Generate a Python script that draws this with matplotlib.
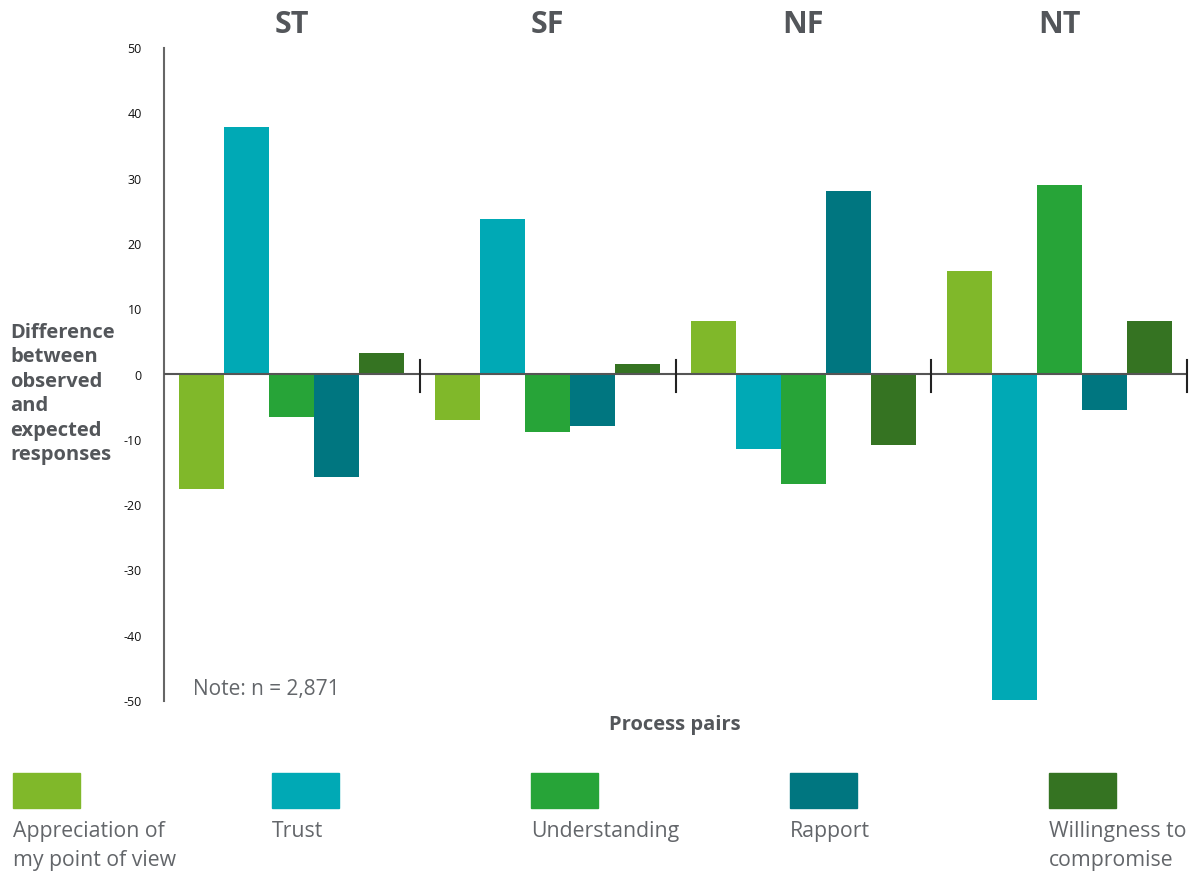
import matplotlib
matplotlib.use("Agg")
import matplotlib.pyplot as plt
from matplotlib.patches import Rectangle
import numpy as np

plt.rcParams['font.family'] = ['Open Sans', 'DejaVu Sans']

groups = ["ST", "SF", "NF", "NT"]
series = ["Appreciation of\nmy point of view", "Trust", "Understanding", "Rapport",
          "Willingness to\ncompromise"]
appreciation = [-17.5, -7.0, 8.2, 15.8]
trust = [37.9, 23.8, -11.4, -49.8]
understanding = [-6.5, -8.8, -16.8, 29.0]
rapport = [-15.7, -7.9, 28.1, -5.4]
willingness = [3.3, 1.6, -10.8, 8.2]
yticks = [50, 40, 30, 20, 10, 0, -10, -20, -30, -40, -50]
colors = ["#80B82A", "#00A9B5", "#27A438", "#007680", "#357322"]

values = [appreciation, trust, understanding, rapport, willingness]

W, H = 1190, 871
fig = plt.figure(figsize=(W / 100, H / 100), dpi=100)
ax = fig.add_axes([164 / W, 1 - 701 / H, (1187 - 164) / W, (701 - 48) / H])

x = np.arange(len(groups))
bw = 45 / 255.75
for i, (vals, c) in enumerate(zip(values, colors)):
    ax.bar(x + (i - 2) * bw, vals, width=bw, color=c, zorder=2)

ax.set_xlim(-0.5, len(groups) - 0.5)
ax.set_ylim(-50, 50)
ax.axhline(0, color="#555555", lw=1.5, zorder=3)
for xs in np.arange(0.5, len(groups), 1.0):
    ax.plot([xs, xs], [-2.7, 2.2], color="#222222", lw=1.5, zorder=4, clip_on=False)

for s in ["top", "right", "bottom"]:
    ax.spines[s].set_visible(False)
ax.spines["left"].set_color("#666666")
ax.spines["left"].set_linewidth(1.5)
ax.set_yticks(yticks)
ax.set_yticklabels([str(v) for v in yticks], fontsize=9, color="#111111")
ax.tick_params(axis="y", length=0, pad=16)
ax.set_xticks([])

for gi, g in enumerate(groups):
    ax.text(gi, 1.035, g, transform=ax.get_xaxis_transform(), ha="center", va="center",
            fontsize=22, fontweight="bold", color="#53565A")

fig.text(10 / W, 1 - 394 / H, "Difference\nbetween\nobserved\nand\nexpected\nresponses",
         ha="left", va="center", fontsize=14.5, fontweight="bold", color="#53565A",
         linespacing=1.3)
fig.text(675 / W, 1 - 725 / H, "Process pairs", ha="center", va="center",
         fontsize=14.5, fontweight="bold", color="#53565A")
fig.text(193 / W, 1 - 689 / H, "Note: n = 2,871", ha="left", va="center",
         fontsize=15, color="#63666A")

for i, (lab, c) in enumerate(zip(series, colors)):
    x0 = 13 + i * 259
    fig.patches.append(Rectangle((x0 / W, 1 - 808 / H), 67 / W, 35 / H,
                                 transform=fig.transFigure, color=c))
    fig.text(x0 / W, 1 - 821 / H, lab, ha="left", va="top", fontsize=15.3,
             color="#63666A", linespacing=1.48)

fig.savefig("out.png", dpi=100)
